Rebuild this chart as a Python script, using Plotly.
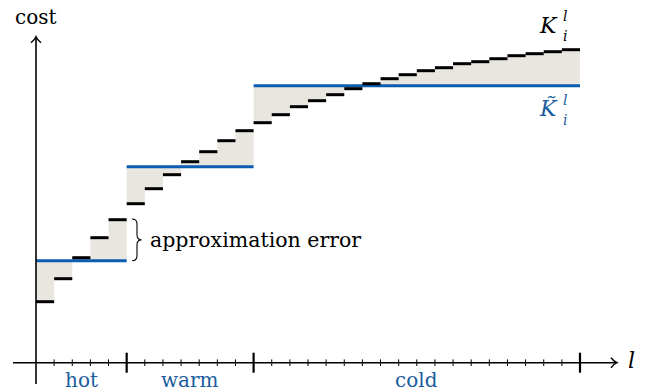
import plotly.graph_objects as go

# ---------------- data ----------------
regions = ["hot", "warm", "cold"]
hot_costs = [6.1, 8.4, 10.5, 12.5, 14.3]
warm_costs = [15.9, 17.4, 18.8, 20.1, 21.1, 22.2, 23.2]
cold_costs = [24.0, 24.8, 25.6, 26.2, 26.8, 27.4, 27.9, 28.4, 28.8, 29.2,
              29.5, 29.9, 30.1, 30.4, 30.7, 30.9, 31.1, 31.3]
approx_costs = [10.2, 19.6, 27.7]   # K~ (approximation) per region

# ---------------- style / geometry helpers ----------------
W, H = 657, 392
UX = 18.133          # px per unit on x
UY = 10.0            # px per cost unit
X0, Y0 = 36.0, 362.7 # pixel of origin

def dx(p):  # pixel x -> data x
    return (p - X0) / UX

def dy(p):  # pixel y -> data y
    return (Y0 - p) / UY

BLUE = "#0a5db0"
TXTBLUE = "#1b5d9e"
FILL = "#e9e6df"
FONT = "DejaVu Serif"

series = [hot_costs, warm_costs, cold_costs]
starts = []
s = 0
for v in series:
    starts.append(s)
    s += len(v)
total = s

fig = go.Figure()

# shaded approximation-error areas
for st, vals, b in zip(starts, series, approx_costs):
    xs, ys = [st], [b]
    for k, v in enumerate(vals):
        xs += [st + k, st + k + 1]
        ys += [v, v]
    xs += [st + len(vals)]
    ys += [b]
    fig.add_trace(go.Scatter(x=xs, y=ys, fill="toself", fillcolor=FILL,
                             mode="lines", line=dict(width=0), hoverinfo="skip",
                             showlegend=False))

# blue approximation lines
bx, by = [], []
for st, vals, b in zip(starts, series, approx_costs):
    bx += [st, st + len(vals), None]
    by += [b, b, None]
fig.add_trace(go.Scatter(x=bx, y=by, mode="lines",
                         line=dict(color=BLUE, width=3), showlegend=False,
                         hoverinfo="skip"))

# black step dashes
kx, ky = [], []
for st, vals in zip(starts, series):
    for k, v in enumerate(vals):
        kx += [st + k, st + k + 1, None]
        ky += [v, v, None]
fig.add_trace(go.Scatter(x=kx, y=ky, mode="lines",
                         line=dict(color="black", width=3), showlegend=False,
                         hoverinfo="skip"))

shapes = []
# axes
shapes.append(dict(type="line", x0=dx(13), x1=dx(616), y0=0, y1=0,
                   line=dict(color="black", width=1.6)))
shapes.append(dict(type="line", x0=0, x1=0, y0=dy(384), y1=dy(38),
                   line=dict(color="black", width=1.6)))
# arrowheads
tx, ty = 617, Y0
shapes.append(dict(type="path", line=dict(color="black", width=1.4),
                   path=f"M {dx(tx-6)},{dy(ty-5)} Q {dx(tx-3)},{dy(ty-1.2)} {dx(tx)},{dy(ty)} "
                        f"Q {dx(tx-3)},{dy(ty+1.2)} {dx(tx-6)},{dy(ty+5)}"))
ax_, ay_ = X0, 36.7
shapes.append(dict(type="path", line=dict(color="black", width=1.4),
                   path=f"M {dx(ax_-5)},{dy(ay_+6)} Q {dx(ax_-1.2)},{dy(ay_+3)} {dx(ax_)},{dy(ay_)} "
                        f"Q {dx(ax_+1.2)},{dy(ay_+3)} {dx(ax_+5)},{dy(ay_+6)}"))
# ticks
majors = starts[1:] + [total]
for u in range(1, total + 1):
    h = 10 if u in majors else 3.3
    w = 2.2 if u in majors else 1
    shapes.append(dict(type="line", x0=u, x1=u, y0=dy(Y0 - h), y1=dy(Y0 + h),
                       line=dict(color="black", width=w)))
# curly brace
bxp, byt, byb = 132, 219, 260.7
bm = (byt + byb) / 2
shapes.append(dict(type="path", line=dict(color="black", width=1.1),
                   path=(f"M {dx(bxp)},{dy(byt)} Q {dx(bxp+5)},{dy(byt)} {dx(bxp+5)},{dy(byt+5)} "
                         f"L {dx(bxp+5)},{dy(bm-5)} Q {dx(bxp+5)},{dy(bm)} {dx(bxp+9.5)},{dy(bm)} "
                         f"Q {dx(bxp+5)},{dy(bm)} {dx(bxp+5)},{dy(bm+5)} "
                         f"L {dx(bxp+5)},{dy(byb-5)} Q {dx(bxp+5)},{dy(byb)} {dx(bxp)},{dy(byb)}")))

ann = []
def txt(x, y, t, size=20, color="black", xanchor="center"):
    ann.append(dict(x=dx(x), y=dy(y), text=t, showarrow=False, xanchor=xanchor,
                    yanchor="middle", font=dict(family=FONT, size=size, color=color)))

# region labels
for st, vals, name in zip(starts, series, regions):
    ann.append(dict(x=st + len(vals) / 2, y=dy(380), text=name, showarrow=False,
                    xanchor="center", yanchor="middle",
                    font=dict(family=FONT, size=20, color=TXTBLUE)))

txt(36, 17, "cost", 20)
txt(631, 360, "<i>l</i>", 22)
txt(148, 240, "approximation error", 20.5, xanchor="left")
txt(548, 25, "<i>K</i>", 22)
txt(565, 16, "<i>l</i>", 14)
txt(565, 36, "<i>i</i>", 14)
txt(548, 108, "<i>K\u0303</i>", 22, TXTBLUE)
txt(565, 100, "<i>l</i>", 14, TXTBLUE)
txt(565, 120, "<i>i</i>", 14, TXTBLUE)

fig.update_layout(
    width=W, height=H, margin=dict(l=0, r=0, t=0, b=0),
    paper_bgcolor="white", plot_bgcolor="white",
    xaxis=dict(range=[dx(0), dx(W)], visible=False, fixedrange=True),
    yaxis=dict(range=[dy(H), dy(0)], visible=False, fixedrange=True),
    shapes=shapes, annotations=ann, showlegend=False,
)
fig.write_html("out.html")
